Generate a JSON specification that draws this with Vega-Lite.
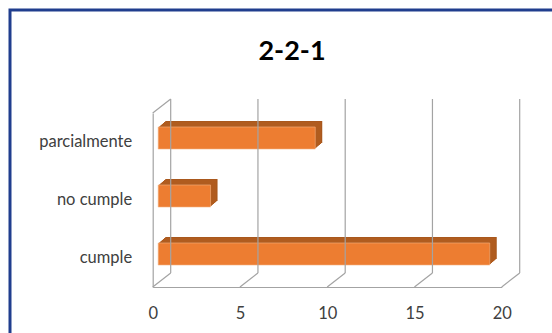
{
  "$schema": "https://vega.github.io/schema/vega-lite/v6.json",
  "autosize": {"type": "none"},
  "padding": {"left": 10, "top": 10, "right": -28, "bottom": -27},
  "width": 570,
  "height": 350,
  "background": "white",
  "config": {
    "view": {"stroke": "#203E8E", "strokeWidth": 3},
    "font": "Lato"
  },
  "title": {
    "text": "2-2-1",
    "font": "Lato",
    "fontSize": 27,
    "fontWeight": "bold",
    "color": "#000000",
    "anchor": "middle",
    "baseline": "top",
    "offset": 0,
    "dy": 56,
    "dx": -3
  },
  "datasets": {
    "answers": [
      {"category": "parcialmente", "count": 9},
      {"category": "no cumple", "count": 3},
      {"category": "cumple", "count": 19}
    ],
    "ticks": [{"t": 0}, {"t": 5}, {"t": 10}, {"t": 15}, {"t": 20}]
  },
  "layer": [
    {
      "data": {"name": "answers"},
      "encoding": {
        "x": {
          "field": "count",
          "type": "quantitative",
          "scale": {"domain": [0, 20], "range": [142.7, 491.7], "nice": false, "zero": false},
          "axis": {
            "orient": "bottom",
            "offset": -73,
            "values": [0, 5, 10, 15, 20],
            "domain": true,
            "domainColor": "#A3A3A3",
            "domainWidth": 1.2,
            "ticks": false,
            "grid": false,
            "labelPadding": 18,
            "labelFlush": false,
            "labelFont": "Lato",
            "labelFontSize": 16.5,
            "labelColor": "#404040",
            "title": null
          }
        },
        "x2": {"datum": 0},
        "y": {
          "field": "category",
          "type": "nominal",
          "sort": ["parcialmente", "no cumple", "cumple"],
          "scale": {"domain": ["parcialmente", "no cumple", "cumple"], "range": [103, 277], "paddingInner": 0.62, "paddingOuter": 0.31},
          "axis": {
            "orient": "left",
            "offset": -142.7,
            "domain": true,
            "domainColor": "#A3A3A3",
            "domainWidth": 1.2,
            "ticks": false,
            "grid": false,
            "labelPadding": 21,
            "labelFont": "Lato",
            "labelFontSize": 16.5,
            "labelColor": "#404040",
            "title": null
          }
        }
      },
      "layer": [
        {"mark": {"type": "rect", "color": "#A9581D", "xOffset": 12.5, "x2Offset": 12.5, "yOffset": -10, "y2Offset": -10}},
        {"mark": {"type": "rect", "color": "#B05C1F", "xOffset": 11.3, "x2Offset": 11.3, "yOffset": -9, "y2Offset": -9}},
        {"mark": {"type": "rect", "color": "#B05C1F", "xOffset": 10.2, "x2Offset": 10.2, "yOffset": -8, "y2Offset": -8}},
        {"mark": {"type": "rect", "color": "#B05C1F", "xOffset": 9, "x2Offset": 9, "yOffset": -7, "y2Offset": -7}},
        {"mark": {"type": "rect", "color": "#B05C1F", "xOffset": 7.8, "x2Offset": 7.8, "yOffset": -6, "y2Offset": -6}},
        {"mark": {"type": "rect", "color": "#B05C1F", "xOffset": 6.7, "x2Offset": 6.7, "yOffset": -5, "y2Offset": -5}},
        {"mark": {"type": "rect", "color": "#ED7D31", "stroke": "#F4B183", "strokeWidth": 0.6, "xOffset": 5.5, "x2Offset": 5.5, "yOffset": -4, "y2Offset": -4}}
      ]
    },
    {
      "data": {"name": "ticks"},
      "mark": {"type": "rule", "color": "#A3A3A3", "strokeWidth": 1.2, "xOffset": 18, "yOffset": -14, "y2Offset": -14},
      "encoding": {
        "x": {"field": "t", "type": "quantitative"},
        "y": {"datum": 0, "type": "quantitative", "scale": {"domain": [0, 1], "range": [277, 103]}, "axis": null},
        "y2": {"datum": 1}
      }
    },
    {
      "data": {"name": "ticks"},
      "mark": {"type": "rule", "color": "#A3A3A3", "strokeWidth": 1.2, "x2Offset": 18, "y2Offset": -14},
      "encoding": {
        "x": {"field": "t", "type": "quantitative"},
        "x2": {"field": "t"},
        "y": {"datum": 0, "type": "quantitative", "scale": {"domain": [0, 1], "range": [277, 103]}, "axis": null},
        "y2": {"datum": 0}
      }
    },
    {
      "data": {"name": "ticks"},
      "transform": [{"filter": "datum.t == 0"}],
      "mark": {"type": "rule", "color": "#A3A3A3", "strokeWidth": 1.2, "x2Offset": 18, "y2Offset": -14},
      "encoding": {
        "x": {"field": "t", "type": "quantitative"},
        "x2": {"field": "t"},
        "y": {"datum": 1, "type": "quantitative", "scale": {"domain": [0, 1], "range": [277, 103]}, "axis": null},
        "y2": {"datum": 1}
      }
    }
  ],
  "resolve": {"scale": {"y": "independent"}}
}
